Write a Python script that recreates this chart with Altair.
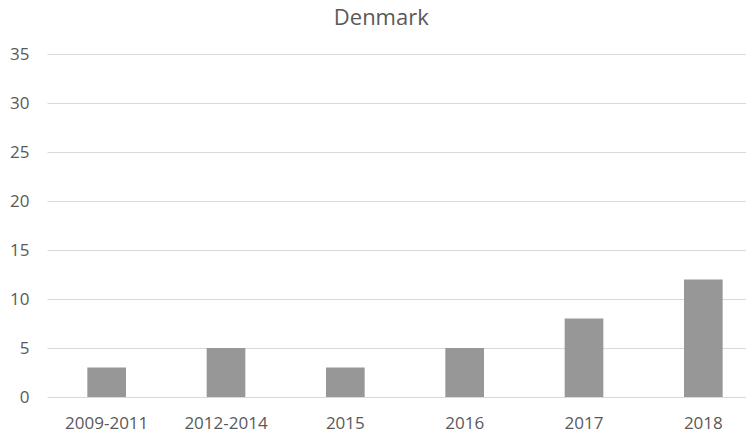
import altair as alt
import pandas as pd

categories = ["2009-2011", "2012-2014", "2015", "2016", "2017", "2018"]
values = [3, 5, 3, 5, 8, 12]
y_ticks = [0, 5, 10, 15, 20, 25, 30, 35]

df = pd.DataFrame({"period": categories, "count": values})

FONT = "Open Sans"
TEXT = "#595959"

chart = alt.Chart(df).mark_bar(color="#979797").encode(
    x=alt.X("period:N", sort=categories, title=None,
            scale=alt.Scale(paddingInner=0.676, paddingOuter=0.338, range=[0, 716]),
            axis=alt.Axis(labelAngle=0, ticks=False, domain=False, grid=False,
                          labelFont=FONT, labelFontSize=17, labelColor=TEXT,
                          labelPadding=18)),
    y=alt.Y("count:Q", title=None,
            scale=alt.Scale(domain=[0, 35], nice=False),
            axis=alt.Axis(values=y_ticks, ticks=False, domain=False,
                          grid=True, gridColor="#d9d9d9", gridWidth=1,
                          labelFont=FONT, labelFontSize=17, labelColor=TEXT,
                          labelPadding=18)),
).properties(
    width=699,
    height=343,
    title=alt.TitleParams("Denmark", font=FONT, fontSize=22, fontWeight="normal",
                          color=TEXT, anchor="middle", frame="bounds", offset=15,
                          dx=-5),
    autosize=alt.AutoSizeParams(type="none"),
    padding={"left": 39, "top": 46, "right": 0, "bottom": 36},
).configure_view(stroke=None)

chart.save("out.html", embed_options={"renderer": "svg", "actions": False})
